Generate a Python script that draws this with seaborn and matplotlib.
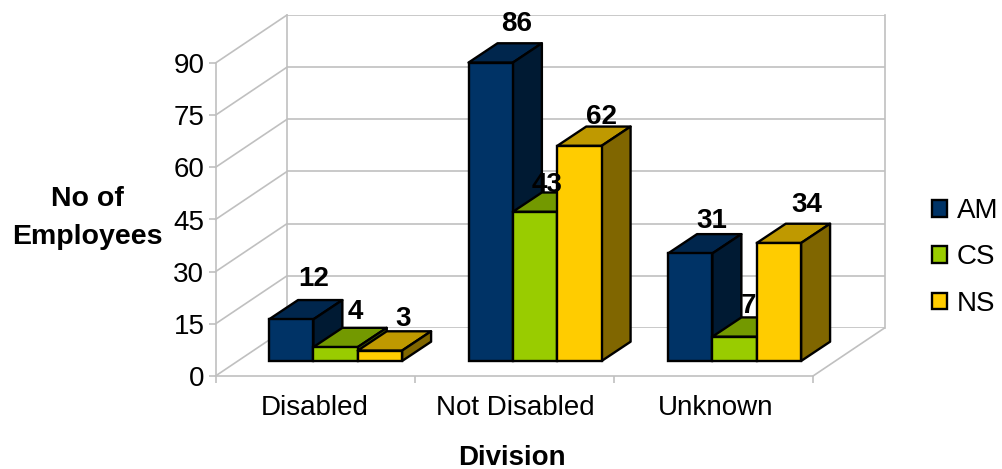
import matplotlib
matplotlib.use("Agg")
import matplotlib.pyplot as plt
import matplotlib.colors as mcolors
from matplotlib.patches import ConnectionPatch, Polygon
import pandas as pd
import seaborn as sns

divisions = ["Disabled", "Not Disabled", "Unknown"]
groups = ["AM", "CS", "NS"]
am_values = [12, 86, 31]
cs_values = [4, 43, 7]
ns_values = [3, 62, 34]
y_ticks = [0, 15, 30, 45, 60, 75, 90]
colors = ["#003366", "#99CC00", "#FFCC00"]

# pixel offset of each value label from the top centre of its bar
label_dx = [[22, 26, 22], [20, 12, 14], [23, 22, 28]]
label_dy = [[40, 39, 32], [35, 27, 31], [32, 29, 38]]

W, H = 1002, 469
GRID = "#c0c0c0"
EDGE = 1.7


def px_axes(fig, left, right, top, bottom, zorder):
    ax = fig.add_axes([left / W, 1 - bottom / H, (right - left) / W, (bottom - top) / H])
    ax.set_xlim(-0.5, 2.5)
    ax.set_ylim(0, 90)
    ax.patch.set_visible(False)
    ax.set_zorder(zorder)
    return ax


def main():
    sns.set_theme(style="white")
    plt.rcParams["font.family"] = ["Liberation Sans", "DejaVu Sans"]

    df = pd.DataFrame({
        "division": divisions * 3,
        "group": [g for g in groups for _ in divisions],
        "employees": am_values + cs_values + ns_values,
    })

    fig = plt.figure(figsize=(W / 100, H / 100), dpi=100)
    ax_wall = px_axes(fig, 287, 884.5, 15, 328, 0)
    ax_front = px_axes(fig, 215.5, 813, 63, 376, 1)
    ax_bars = px_axes(fig, 235.8, 834.3, 48.7, 361, 3)

    # back wall
    ax_wall.set_yticks(y_ticks)
    ax_wall.set_xticks([])
    ax_wall.tick_params(left=False, labelleft=False)
    ax_wall.grid(axis="y", color=GRID, lw=1.2)
    for side in ["top", "bottom"]:
        ax_wall.spines[side].set_visible(False)
    for side in ["left", "right"]:
        ax_wall.spines[side].set_color(GRID)
        ax_wall.spines[side].set_linewidth(1.2)

    # front plane with the labelled axes
    ax_front.set_xticks([0, 1.005, 2.012])
    ax_front.set_xticklabels(divisions, fontsize=20, color="black")
    ax_front.set_xticks([-0.5, 0.5, 1.5, 2.5], minor=True)
    ax_front.set_yticks(y_ticks)
    ax_front.tick_params(axis="x", which="major", length=0, pad=14, bottom=True)
    ax_front.tick_params(axis="x", which="minor", length=5, width=1.2, color=GRID, bottom=True)
    ax_front.tick_params(axis="y", length=5, width=1.2, color=GRID, pad=3, labelsize=20, left=True, labelcolor="black")
    for side in ["top", "right"]:
        ax_front.spines[side].set_visible(False)
    for side in ["left", "bottom"]:
        ax_front.spines[side].set_color(GRID)
        ax_front.spines[side].set_linewidth(1.2)
    ax_front.set_xlabel("Division", fontsize=20, fontweight="bold", color="black", va="center")
    ax_front.xaxis.set_label_coords((512 - 215.5) / 597.5, 1 - (458 - 63) / 313, transform=ax_front.transAxes)
    ax_front.set_ylabel("No of\nEmployees", fontsize=20.5, fontweight="bold", color="black", rotation=0,
                        ha="center", va="center", linespacing=1.55)
    ax_front.yaxis.set_label_coords((87 - 215.5) / 597.5, 1 - (218 - 63) / 313, transform=ax_front.transAxes)

    # floor and side edges between the front plane and the wall
    for v in y_ticks:
        fig.add_artist(ConnectionPatch((-0.5, v), (-0.5, v), ax_front.transData, ax_wall.transData,
                                       color=GRID, lw=1.2, zorder=2))
    fig.add_artist(ConnectionPatch((2.5, 0), (2.5, 0), ax_front.transData, ax_wall.transData,
                                   color=GRID, lw=1.2, zorder=2))

    # bars
    sns.barplot(data=df, x="division", y="employees", hue="group", order=divisions, hue_order=groups,
                palette=colors, width=0.667, gap=0, saturation=1, edgecolor="black", linewidth=EDGE,
                ax=ax_bars)
    handles, labels = ax_bars.get_legend_handles_labels()
    ax_bars.get_legend().remove()
    ax_bars.set_xlim(-0.5, 2.5)
    ax_bars.set_ylim(0, 90)
    ax_bars.axis("off")

    depth_x = 29 / 199.5
    depth_y = 19.3 / 3.47
    for h, container in enumerate(ax_bars.containers):
        rgb = mcolors.to_rgb(colors[h])
        top_c = tuple(c * 0.75 for c in rgb)
        side_c = tuple(c * 0.5 for c in rgb)
        for c, bar in enumerate(container):
            x0, x1 = bar.get_x(), bar.get_x() + bar.get_width()
            val = bar.get_height()
            z = 2 + h
            bar.set_zorder(z + 0.5)
            bar.set_clip_on(False)
            ax_bars.add_patch(Polygon([(x0, val), (x1, val), (x1 + depth_x, val + depth_y), (x0 + depth_x, val + depth_y)],
                                      closed=True, facecolor=top_c, edgecolor="black", lw=EDGE,
                                      joinstyle="round", clip_on=False, zorder=z))
            ax_bars.add_patch(Polygon([(x1, 0), (x1 + depth_x, depth_y), (x1 + depth_x, val + depth_y), (x1, val)],
                                      closed=True, facecolor=side_c, edgecolor="black", lw=EDGE,
                                      joinstyle="round", clip_on=False, zorder=z))
            ax_bars.annotate(str(int(val)), ((x0 + x1) / 2, val), xytext=(label_dx[h][c], label_dy[h][c]),
                             textcoords="offset pixels", ha="center", va="center", fontsize=20,
                             fontweight="bold", color="black", zorder=10, annotation_clip=False)

    ax_bars.legend(handles, labels, loc="center left", bbox_to_anchor=(932 / W, 1 - 257.5 / H),
                   bbox_transform=fig.transFigure, frameon=False, fontsize=20, handlelength=0.55,
                   handleheight=0.55, handletextpad=0.35, labelspacing=0.73, labelcolor="black",
                   borderpad=0, borderaxespad=0)

    fig.savefig("out.png", dpi=100, facecolor="white")


if __name__ == "__main__":
    main()
